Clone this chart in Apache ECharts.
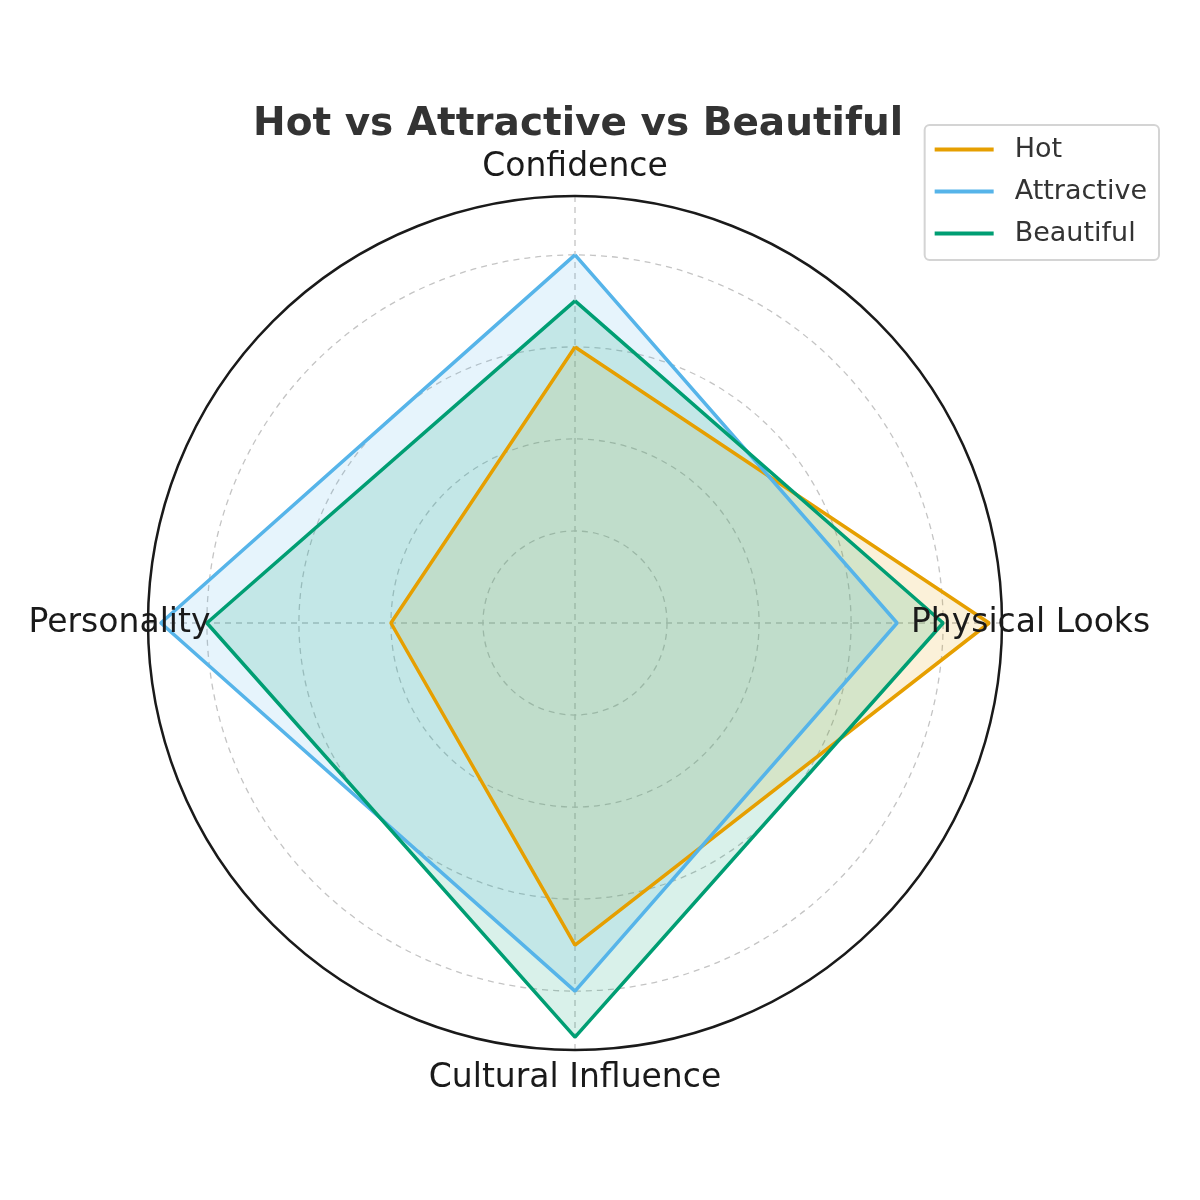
<!DOCTYPE html>
<html lang="en">
<head>
    <meta charset="UTF-8">
    <style>
    html,
    body {
        height: 100%;
        margin: 0;
        background: #fff;
    }
  </style>
</head>
<body>
<div id="chart" style="width:1200px;height:1200px;"></div>
<script src="https://cdn.jsdelivr.net/npm/echarts@6/dist/echarts.min.js"></script>
<script>
    // axes in clockwise order, starting at the top
    var categories = ['Confidence', 'Physical Looks', 'Cultural Influence', 'Personality'];
    var hot = [6, 9, 7, 4];
    var attractive = [8, 7, 8, 9];
    var beautiful = [7, 8, 9, 8];
    var seriesNames = ['Hot', 'Attractive', 'Beautiful'];
    var colors = ['#E69F00', '#56B4E9', '#009E73'];
    var rMax = 9.28;
    var labelR = 9.9;   // where the category names sit (centred), in data units

    // build closed polygons as [radius, angle]
    function toPolar(vals) {
        var pts = [];
        for (var i = 0; i < vals.length; i++) {
            pts.push([vals[i], i * 360 / vals.length]);
        }
        pts.push([vals[0], 360]);
        return pts;
    }

    var allData = [hot, attractive, beautiful];
    var series = [];
    for (var s = 0; s < allData.length; s++) {
        series.push({
            name: seriesNames[s],
            type: 'line',
            coordinateSystem: 'polar',
            data: toPolar(allData[s]),
            symbol: 'none',
            color: colors[s],
            lineStyle: { width: 3.5, color: colors[s] },
            areaStyle: { color: colors[s], opacity: 0.15 },
            z: 2
        });
    }

    // category names, centred on their spoke like matplotlib does
    var labelPts = [];
    for (var i = 0; i < categories.length; i++) {
        labelPts.push({ name: categories[i], value: [labelR, i * 360 / categories.length] });
    }
    series.push({
        name: 'axisNames',
        type: 'scatter',
        coordinateSystem: 'polar',
        data: labelPts,
        clip: false,
        symbol: 'circle',
        symbolSize: 1,
        itemStyle: { color: 'rgba(255,255,255,0)', opacity: 1 },
        silent: true,
        z: 10,
        label: {
            show: true,
            position: 'inside',
            align: 'center',
            verticalAlign: 'middle',
            formatter: '{b}',
            fontFamily: 'DejaVu Sans',
            fontSize: 33,
            color: '#1a1a1a',
            opacity: 1
        }
    });

    var myChart = echarts.init(document.getElementById('chart'));
    myChart.setOption({
        animation: false,
        backgroundColor: '#fff',
        title: {
            text: 'Hot vs Attractive vs Beautiful',
            left: 248,
            top: 100,
            textStyle: {
                fontFamily: 'DejaVu Sans',
                fontSize: 39,
                fontWeight: 'bold',
                color: '#333'
            }
        },
        legend: {
            orient: 'vertical',
            right: 41,
            top: 125,
            data: seriesNames,
            icon: 'rect',
            itemWidth: 59,
            itemHeight: 4,
            itemGap: 15,
            padding: [11, 12, 13, 10],
            borderColor: '#d4d4d4',
            borderWidth: 2,
            borderRadius: 5,
            textStyle: {
                fontFamily: 'DejaVu Sans',
                fontSize: 27,
                color: '#333',
                padding: [0, 0, 0, 16]
            }
        },
        polar: {
            center: [575, 623],
            radius: 427
        },
        angleAxis: {
            type: 'value',
            min: 0,
            max: 360,
            interval: 90,
            startAngle: 90,
            clockwise: true,
            axisLine: { show: true, lineStyle: { color: '#1a1a1a', width: 2.5 } },
            axisTick: { show: false },
            axisLabel: { show: false },
            splitLine: { show: true, lineStyle: { color: '#c4c4c4', type: [6, 5], width: 1.3 } }
        },
        radiusAxis: {
            type: 'value',
            min: 0,
            max: rMax,
            interval: 2,
            axisLine: { show: false },
            axisTick: { show: false },
            axisLabel: { show: false },
            splitLine: { show: true, lineStyle: { color: '#c4c4c4', type: [6, 5], width: 1.3 } }
        },
        series: series
    });
</script>
</body>
</html>
